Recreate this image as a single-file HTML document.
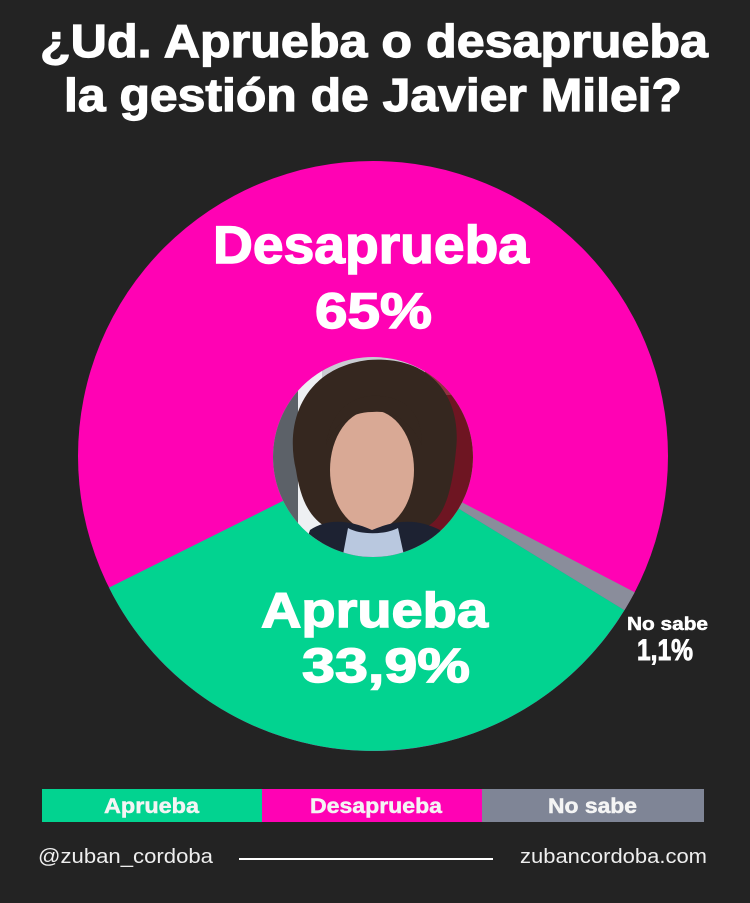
<!DOCTYPE html>
<html><head><meta charset="utf-8"><style>
html,body{margin:0;padding:0;background:#232323;}
svg{display:block;}
text{font-family:"Liberation Sans",sans-serif;}
</style></head><body>
<svg width="750" height="903" viewBox="0 0 750 903" xmlns="http://www.w3.org/2000/svg">
<rect width="750" height="903" fill="#232323"/>
<!-- Title -->
<g fill="#ffffff" stroke="#ffffff" stroke-width="1.2" font-weight="bold">
<text x="40" y="57" font-size="46" textLength="668" lengthAdjust="spacingAndGlyphs">¿Ud. Aprueba o desaprueba</text>
<text x="64" y="111" font-size="46" textLength="618" lengthAdjust="spacingAndGlyphs">la gestión de Javier Milei?</text>
</g>

<!-- Pie -->
<circle cx="373" cy="456" r="295" fill="#ff02b4"/>
<path d="M373,456 L624.5,610.1 A295,295 0 0 1 109.0,587.6 Z" fill="#02d390"/>
<path d="M373,456 L634.7,592.2 A295,295 0 0 1 624.5,610.1 Z" fill="#8a8d9b"/>

<!-- Photo -->
<defs><clipPath id="pc"><circle cx="373" cy="457" r="100"/></clipPath></defs>
<g clip-path="url(#pc)">
  <rect x="270" y="355" width="210" height="205" fill="#c9ccd2"/>
  <rect x="270" y="355" width="28" height="205" fill="#5c6168"/>
  <rect x="298" y="355" width="24" height="205" fill="#eef0f3"/>
  <rect x="425" y="355" width="55" height="205" fill="#6e1522"/>
  <rect x="425" y="355" width="55" height="40" fill="#8e3440"/>
  <path d="M296,470 C284,420 305,368 368,360 C432,355 462,398 456,450 C452,492 444,520 424,528 L328,528 C308,518 300,496 296,470 Z" fill="#35271f"/>
  <ellipse cx="372" cy="470" rx="42" ry="60" fill="#d9a995"/>
  <path d="M326,445 C332,405 358,394 380,396 C408,398 422,415 422,445 C410,420 392,410 372,412 C350,412 334,425 326,445 Z" fill="#35271f"/>
  <path d="M300,560 L310,530 C325,520 345,518 372,530 C400,518 420,520 440,530 L450,560 Z" fill="#1d2232"/>
  <path d="M342,560 L348,528 C360,535 385,535 398,528 L405,560 Z" fill="#b9c8df"/>
</g>

<!-- Pie labels -->
<g fill="#ffffff" stroke="#ffffff" font-weight="bold">
<text x="213" y="263" font-size="53" stroke-width="1.4" textLength="316" lengthAdjust="spacingAndGlyphs">Desaprueba</text>
<text x="315" y="328" font-size="50" stroke-width="1.4" textLength="117" lengthAdjust="spacingAndGlyphs">65%</text>
<text x="261" y="627" font-size="49" stroke-width="1.4" textLength="227" lengthAdjust="spacingAndGlyphs">Aprueba</text>
<text x="302" y="682" font-size="48" stroke-width="1.4" textLength="168" lengthAdjust="spacingAndGlyphs">33,9%</text>
<text x="627" y="630" font-size="18" stroke-width="0.5" textLength="81" lengthAdjust="spacingAndGlyphs">No sabe</text>
<text x="637" y="660" font-size="30" stroke-width="0.9" textLength="56" lengthAdjust="spacingAndGlyphs">1,1%</text>
</g>

<!-- Legend -->
<rect x="42" y="789" width="220" height="33" fill="#02d390"/>
<rect x="262" y="789" width="220" height="33" fill="#ff02b4"/>
<rect x="482" y="789" width="222" height="33" fill="#7f8596"/>
<g fill="#f4f4f4" stroke="#f4f4f4" stroke-width="0.5" font-weight="bold">
<text x="104" y="813" font-size="21" textLength="95" lengthAdjust="spacingAndGlyphs">Aprueba</text>
<text x="310" y="813" font-size="21" textLength="132" lengthAdjust="spacingAndGlyphs">Desaprueba</text>
<text x="548" y="813" font-size="21" textLength="89" lengthAdjust="spacingAndGlyphs">No sabe</text>
</g>

<!-- Footer -->
<text x="38" y="863" font-size="20" fill="#eeeeee" textLength="175" lengthAdjust="spacingAndGlyphs">@zuban_cordoba</text>
<line x1="239" y1="859" x2="493" y2="859" stroke="#ffffff" stroke-width="2"/>
<text x="520" y="863" font-size="20" fill="#eeeeee" textLength="187" lengthAdjust="spacingAndGlyphs">zubancordoba.com</text>
</svg>
</body></html>
